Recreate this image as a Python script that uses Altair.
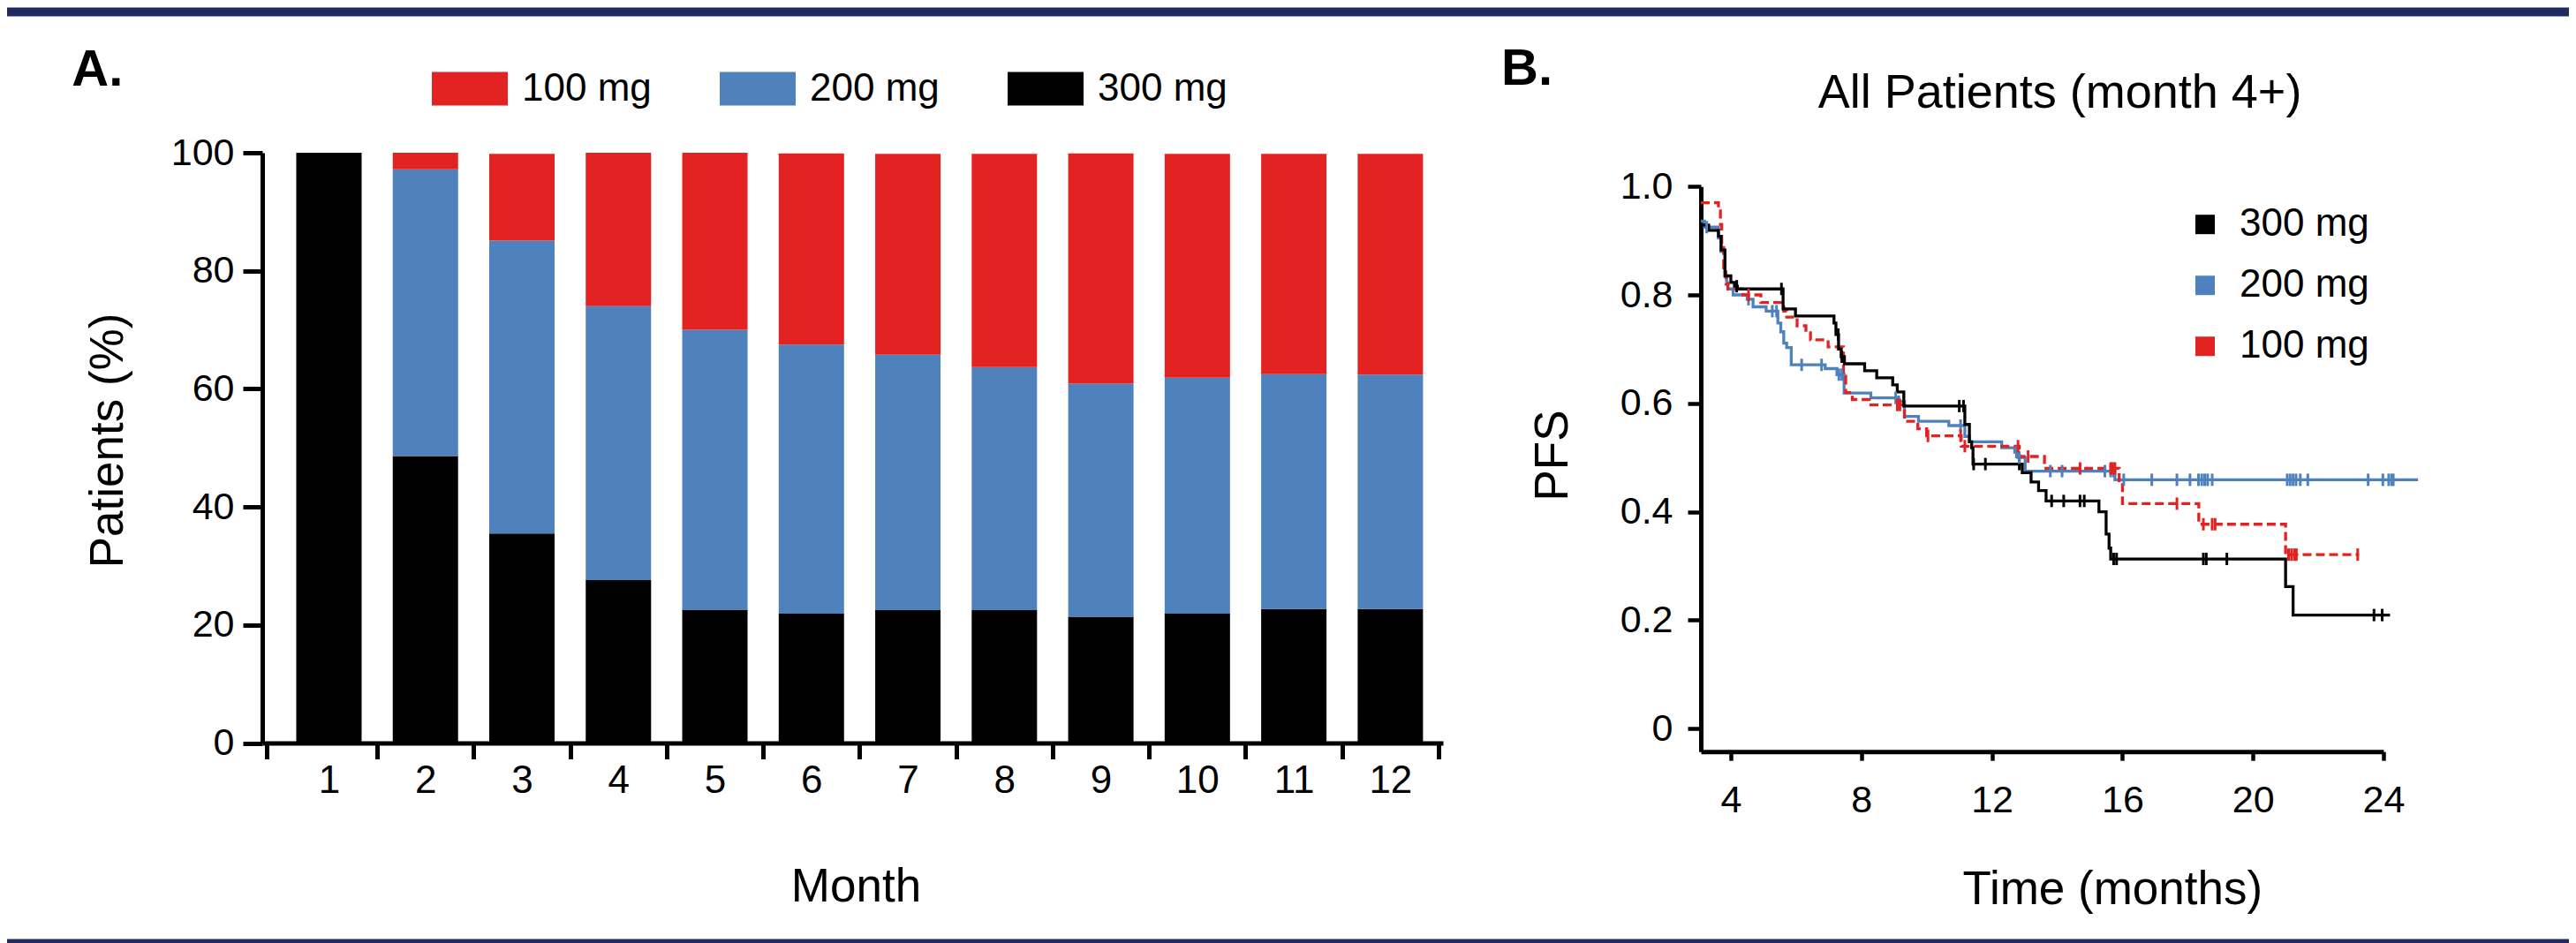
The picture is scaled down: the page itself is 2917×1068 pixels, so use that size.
import altair as alt
import pandas as pd

FONT = "Liberation Sans"
RED = "#E32322"
BLUE = "#4F81BD"
BLACK = "#000000"
NAVY = "#1F2A5E"

# ---------------- Panel A: dose distribution by month (%) ----------------
months = [1, 2, 3, 4, 5, 6, 7, 8, 9, 10, 11, 12]
pct_300 = [100.0, 48.6, 35.5, 27.6, 22.6, 21.9, 22.5, 22.5, 21.4, 21.9, 22.7, 22.7]
pct_200 = [0.0, 48.6, 49.6, 46.4, 47.4, 45.6, 43.3, 41.2, 39.5, 40.0, 39.8, 39.7]
pct_100 = [0.0, 2.8, 14.7, 26.0, 30.0, 32.4, 34.0, 36.1, 39.0, 37.9, 37.3, 37.4]
doses_A = ["100 mg", "200 mg", "300 mg"]
month_boundaries = [0.355, 1.5, 2.5, 3.5, 4.5, 5.5, 6.5, 7.5, 8.5, 9.5, 10.5, 11.5, 12.5]

# ---------------- Panel B: Kaplan-Meier PFS (step points) ----------------
black_t = [3.08, 3.32, 3.62, 3.70, 3.82, 4.00, 4.11, 4.20, 5.60, 5.98, 7.16, 7.22, 7.30, 7.38,
           7.48, 8.10, 8.47, 8.96, 9.10, 9.30, 11.17, 11.31, 11.38, 11.42, 12.93, 13.20, 13.43,
           13.66, 15.28, 15.50, 15.59, 15.64, 21.00, 21.23, 24.20]
black_s = [0.929, 0.919, 0.908, 0.883, 0.835, 0.823, 0.816, 0.811, 0.774, 0.761, 0.748, 0.727,
           0.700, 0.686, 0.673, 0.660, 0.647, 0.634, 0.621, 0.595, 0.561, 0.529, 0.518, 0.488,
           0.472, 0.455, 0.439, 0.420, 0.400, 0.359, 0.333, 0.313, 0.262, 0.2095, 0.2095]
black_cens = [4.18, 5.55, 7.29, 7.40, 11.00, 11.13, 11.44, 11.80, 12.84, 13.83, 14.20, 14.70,
              14.83, 15.73, 15.82, 18.48, 18.57, 19.20, 23.71, 23.96]

blue_t = [3.08, 3.19, 3.62, 3.70, 3.82, 3.87, 3.91, 4.07, 4.50, 4.68, 5.08, 5.44, 5.53, 5.62,
          5.71, 5.85, 6.89, 7.25, 7.47, 8.29, 9.14, 9.32, 9.75, 10.68, 11.17, 11.31, 12.30,
          12.70, 12.80, 13.02, 15.77, 25.06]
blue_s = [0.936, 0.925, 0.905, 0.880, 0.835, 0.822, 0.811, 0.800, 0.792, 0.778, 0.770, 0.748,
          0.732, 0.711, 0.703, 0.671, 0.664, 0.653, 0.619, 0.610, 0.603, 0.576, 0.567, 0.559,
          0.539, 0.529, 0.518, 0.510, 0.500, 0.475, 0.459, 0.459]
blue_cens = [3.26, 4.54, 5.27, 5.40, 6.17, 6.78, 7.31, 7.40, 9.05, 9.14, 11.04, 12.75, 12.84,
             13.79, 14.15, 15.46, 15.64, 15.73, 16.04, 16.90, 17.67, 18.07, 18.33, 18.43, 18.52,
             18.61, 18.75, 21.05, 21.14, 21.23, 21.32, 21.45, 21.68, 23.53, 23.98, 24.16, 24.25,
             24.30]

red_t = [3.08, 3.62, 3.68, 3.72, 3.78, 3.85, 3.91, 4.37, 4.92, 5.62, 5.71, 6.03, 6.30, 6.44,
         6.98, 7.45, 7.52, 7.72, 8.24, 9.32, 9.73, 10.00, 11.06, 12.84, 13.61, 15.90, 16.00,
         18.34, 21.00, 23.25]
red_s = [0.970, 0.955, 0.930, 0.890, 0.850, 0.820, 0.811, 0.800, 0.786, 0.770, 0.759, 0.743,
         0.730, 0.717, 0.704, 0.650, 0.620, 0.607, 0.597, 0.567, 0.553, 0.540, 0.521, 0.502,
         0.480, 0.453, 0.415, 0.377, 0.321, 0.321]
red_cens = [4.54, 9.10, 9.18, 10.04, 11.04, 11.17, 12.80, 13.11, 14.70, 15.64, 15.70, 15.77,
            17.67, 18.48, 18.75, 18.84, 21.09, 21.18, 21.27, 21.33, 23.21]

doses_B = ["300 mg", "200 mg", "100 mg"]
x_ticks_B = [4, 8, 12, 16, 20, 24]
y_ticks_B = [0, 0.2, 0.4, 0.6, 0.8, 1.0]


def step_value(ts, ss, t):
    v = ss[0]
    for tt, s in zip(ts, ss):
        if t >= tt - 1e-9:
            v = s
    return v


# ---------------- build tables ----------------
bar_rows = []
for i, m in enumerate(months):
    for dose, vals, order in (("300 mg", pct_300, 0), ("200 mg", pct_200, 1), ("100 mg", pct_100, 2)):
        bar_rows.append({"month": m, "dose": dose, "pct": vals[i], "stack_order": order})
bar_df = pd.DataFrame(bar_rows)
month_df = pd.DataFrame({"month": months})

km_rows, cens_rows = [], []
for dose, ts, ss, cs in (("300 mg", black_t, black_s, black_cens),
                         ("200 mg", blue_t, blue_s, blue_cens),
                         ("100 mg", red_t, red_s, red_cens)):
    for t, s in zip(ts, ss):
        km_rows.append({"dose": dose, "t": t, "s": s})
    for c in cs:
        cens_rows.append({"dose": dose, "t": c, "s": step_value(ts, ss, c)})
km_df = pd.DataFrame(km_rows)
cens_df = pd.DataFrame(cens_rows)
legend_df = pd.DataFrame({"dose": doses_B, "t": [0.0, 0.0, 0.0], "s": [0.5, 0.5, 0.5]})

# ---------------- Panel A ----------------
WA, HA = 1337, 668.5
xA = alt.Scale(domain=[month_boundaries[0], month_boundaries[-1]], nice=False, zero=False)
colorA = alt.Scale(domain=doses_A, range=[RED, BLUE, BLACK])

bars = alt.Chart(bar_df).mark_bar(size=74).encode(
    x=alt.X("month:Q", scale=xA,
            axis=alt.Axis(orient="bottom", values=month_boundaries, labels=False, tickSize=18,
                          tickWidth=5, domainWidth=5, title=None, grid=False)),
    y=alt.Y("pct:Q", stack="zero", scale=alt.Scale(domain=[0, 100], nice=False),
            axis=alt.Axis(values=[0, 20, 40, 60, 80, 100], tickSize=22, tickWidth=5,
                          domainWidth=5, labelFontSize=43, labelPadding=10, grid=False,
                          title="Patients (%)", titleFontSize=53, titleAngle=-90,
                          titleX=-159, titleY=325.5, titleAlign="center",
                          titleBaseline="alphabetic")),
    color=alt.Color("dose:N", scale=colorA,
                    legend=alt.Legend(orient="none", legendX=192, legendY=-115.5,
                                      direction="horizontal", title=None,
                                      symbolType="M-1,-0.44L1,-0.44L1,0.44L-1,0.44Z",
                                      symbolSize=7396, symbolStrokeWidth=0,
                                      labelFontSize=44, labelFont=FONT, labelColor="black",
                                      labelOffset=16, columnPadding=77, padding=0)),
    order=alt.Order("stack_order:Q", sort="ascending"),
)

month_labels = alt.Chart(month_df).mark_point(opacity=0).encode(
    x=alt.X("month:Q", scale=xA,
            axis=alt.Axis(orient="bottom", values=months, ticks=False, tickSize=0, domain=False,
                          labelFontSize=44, labelPadding=21, labelFlush=False, grid=False,
                          title="Month", titleFontSize=53, titleX=672, titleY=179,
                          titleAlign="center", titleBaseline="alphabetic")),
)

band_top = alt.Chart(pd.DataFrame({"b": [0]})).mark_rect(color=NAVY).encode(
    x=alt.value(-289), x2=alt.value(2612), y=alt.value(-164.5), y2=alt.value(-154.5))
band_bottom = alt.Chart(pd.DataFrame({"b": [0]})).mark_rect(color=NAVY).encode(
    x=alt.value(-289), x2=alt.value(2612), y=alt.value(890.5), y2=alt.value(895.5))

tagA = alt.Chart(pd.DataFrame({"t": ["A."]})).mark_text(
    align="left", baseline="alphabetic", fontSize=58, fontWeight="bold", font=FONT,
    color="black").encode(text="t:N", x=alt.value(-215.7), y=alt.value(-76.5))

panelA = alt.layer(band_top, band_bottom, bars, month_labels, tagA).resolve_axis(
    x="independent").properties(width=WA, height=HA)

# ---------------- Panel B ----------------
WB, HB = 773, 678.2
xB = alt.Scale(domain=[3.08, 24], nice=False, zero=False)
yB = alt.Scale(domain=[-0.0423, 1.0], range=[HB, 38.2], nice=False, zero=False)
colorB = alt.Scale(domain=doses_B, range=[BLACK, BLUE, RED])

x_axis_B = alt.Axis(values=x_ticks_B, tickSize=10, tickWidth=4.5, domainWidth=5,
                    labelFontSize=43, labelPadding=24, labelFlush=False, grid=False,
                    title="Time (months)", titleFontSize=53, titleX=465.8, titleY=172,
                    titleAlign="center", titleBaseline="alphabetic")
y_axis_B = alt.Axis(values=y_ticks_B, tickSize=15, tickWidth=4.5, domainWidth=5,
                    labelFontSize=43, labelPadding=17, grid=False,
                    labelExpr="datum.value == 0 ? '0' : format(datum.value, '.1f')",
                    title="PFS", titleFontSize=53, titleAngle=-90, titleX=-152, titleY=342.5,
                    titleAlign="center", titleBaseline="alphabetic")
legend_B = alt.Legend(orient="none", legendX=549, legendY=59.2, direction="vertical",
                      title=None, symbolType="square", symbolSize=484, symbolStrokeWidth=0,
                      symbolOpacity=1, labelFontSize=44, labelFont=FONT, labelColor="black",
                      labelOffset=17, rowPadding=25, padding=0)

# first layer carries the axes and legend (its squares are clipped out of view)
legend_keys = alt.Chart(legend_df).mark_square(filled=True, size=484, opacity=1, clip=True).encode(
    x=alt.X("t:Q", scale=xB, axis=x_axis_B),
    y=alt.Y("s:Q", scale=yB, axis=y_axis_B),
    color=alt.Color("dose:N", scale=colorB, legend=legend_B),
)


def km_line(dose, dashed=False):
    mark_kwargs = dict(interpolate="step-after", strokeWidth=3.3, opacity=1)
    if dashed:
        mark_kwargs["strokeDash"] = [10, 5]
    return alt.Chart(km_df).transform_filter(alt.datum.dose == dose).mark_line(**mark_kwargs).encode(
        x=alt.X("t:Q", scale=xB),
        y=alt.Y("s:Q", scale=yB),
        color=alt.Color("dose:N", scale=colorB),
        order="t:Q",
    )


line_blue = km_line("200 mg")
line_red = km_line("100 mg", dashed=True)
line_black = km_line("300 mg")

censors = alt.Chart(cens_df).mark_tick(orient="vertical", size=14, thickness=3, opacity=1).encode(
    x=alt.X("t:Q", scale=xB),
    y=alt.Y("s:Q", scale=yB),
    color=alt.Color("dose:N", scale=colorB),
)

tagB = alt.Chart(pd.DataFrame({"t": ["B."]})).mark_text(
    align="left", baseline="alphabetic", fontSize=58, fontWeight="bold", font=FONT,
    color="black").encode(text="t:N", x=alt.value(-226), y=alt.value(-76.8))

titleB = alt.Chart(pd.DataFrame({"t": ["All Patients (month 4+)"]})).mark_text(
    align="center", baseline="alphabetic", fontSize=54, font=FONT,
    color="black").encode(text="t:N", x=alt.value(406.5), y=alt.value(-50.8))

panelB = alt.layer(legend_keys, line_blue, line_red, line_black, censors, tagB, titleB).properties(
    width=WB, height=HB)

chart = alt.hconcat(panelA, panelB, spacing=292, bounds="flush").resolve_scale(
    color="independent").properties(padding=0, background="white").configure_view(
    stroke=None).configure_axis(
    labelFont=FONT, titleFont=FONT, labelColor="black", titleColor="black",
    domainColor="black", tickColor="black", titleFontWeight="normal", grid=False
).configure_text(font=FONT)

chart.save("out.html", embed_options={"renderer": "svg", "actions": False})
